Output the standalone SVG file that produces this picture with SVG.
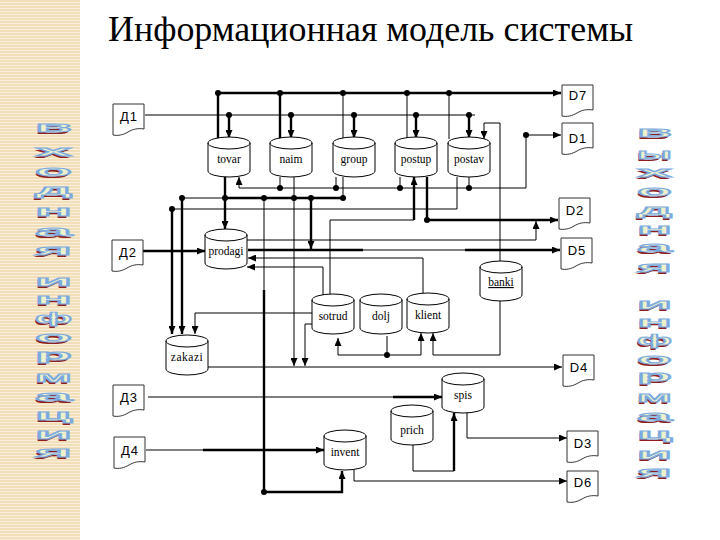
<svg xmlns="http://www.w3.org/2000/svg" xmlns:xlink="http://www.w3.org/1999/xlink" width="720" height="540" viewBox="0 0 720 540">
<defs>
<style>
.thin{fill:none;stroke:#000;stroke-width:1}
.thick{fill:none;stroke:#000;stroke-width:2.4}
.lbl{font-family:'Liberation Serif','DejaVu Serif',serif;font-size:11.5px;fill:#000;text-anchor:middle}
.dl{font-family:'Liberation Sans','DejaVu Sans',sans-serif;font-size:13px;fill:#000;text-anchor:middle;letter-spacing:1px}
.title{font-family:'Liberation Serif','DejaVu Serif',serif;font-size:36px;fill:#000}
.wa{font-family:'Liberation Sans','DejaVu Sans',sans-serif;font-weight:bold;font-size:14px;fill:#eef2cc;stroke:#7aaae0;stroke-width:0.8}
.wash{font-family:'Liberation Sans','DejaVu Sans',sans-serif;font-weight:bold;font-size:14px;fill:#8e1d1d}
</style>
<pattern id="stripes" width="6" height="3" patternUnits="userSpaceOnUse">
<rect width="6" height="3" fill="#f2dfba"/>
<rect y="2" width="6" height="1" fill="#f9efdd"/>
</pattern>
<marker id="ah" viewBox="0 0 10 10" refX="10" refY="5" markerWidth="8" markerHeight="7" markerUnits="userSpaceOnUse" orient="auto" preserveAspectRatio="none">
<path d="M0,0 L10,5 L0,10 Z" fill="#000"/>
</marker>
<g id="cyl">
<path d="M0,6 A21,6 0 0 1 42,6 V34 A21,6 0 0 1 0,34 Z" fill="#fff" stroke="#000" stroke-width="1"/>
<path d="M0,6 A21,6 0 0 0 42,6" fill="none" stroke="#000" stroke-width="1"/>
</g>
<path id="doc" d="M0,0 H31 V25 C25,24 20,25 15,28 C10,31 5,32 0,31 Z" fill="#fff" stroke="#333" stroke-width="1"/>
</defs>

<rect width="720" height="540" fill="#fff"/>
<rect x="0" y="0" width="80" height="540" fill="url(#stripes)"/>

<text class="title" x="108" y="41" textLength="525" lengthAdjust="spacingAndGlyphs">Информационная модель системы</text>

<!-- side WordArt: входная информация -->
<g id="side-left">
<g transform="translate(-1.5,1.5)">
<text class="wash" x="35" y="132" textLength="37" lengthAdjust="spacingAndGlyphs">в</text>
<text class="wash" x="35" y="156" textLength="37" lengthAdjust="spacingAndGlyphs">х</text>
<text class="wash" x="35" y="176" textLength="37" lengthAdjust="spacingAndGlyphs">о</text>
<text class="wash" x="35" y="195" textLength="37" lengthAdjust="spacingAndGlyphs">д</text>
<text class="wash" x="35" y="216" textLength="37" lengthAdjust="spacingAndGlyphs">н</text>
<text class="wash" x="35" y="236" textLength="37" lengthAdjust="spacingAndGlyphs">а</text>
<text class="wash" x="35" y="255" textLength="37" lengthAdjust="spacingAndGlyphs">я</text>
<text class="wash" x="35" y="286" textLength="37" lengthAdjust="spacingAndGlyphs">и</text>
<text class="wash" x="35" y="304" textLength="37" lengthAdjust="spacingAndGlyphs">н</text>
<text class="wash" x="35" y="323" textLength="37" lengthAdjust="spacingAndGlyphs">ф</text>
<text class="wash" x="35" y="342" textLength="37" lengthAdjust="spacingAndGlyphs">о</text>
<text class="wash" x="35" y="360" textLength="37" lengthAdjust="spacingAndGlyphs">р</text>
<text class="wash" x="35" y="382" textLength="37" lengthAdjust="spacingAndGlyphs">м</text>
<text class="wash" x="35" y="401" textLength="37" lengthAdjust="spacingAndGlyphs">а</text>
<text class="wash" x="35" y="420" textLength="37" lengthAdjust="spacingAndGlyphs">ц</text>
<text class="wash" x="35" y="439" textLength="37" lengthAdjust="spacingAndGlyphs">и</text>
<text class="wash" x="35" y="457" textLength="37" lengthAdjust="spacingAndGlyphs">я</text>
</g>
<text class="wa" x="35" y="132" textLength="37" lengthAdjust="spacingAndGlyphs">в</text>
<text class="wa" x="35" y="156" textLength="37" lengthAdjust="spacingAndGlyphs">х</text>
<text class="wa" x="35" y="176" textLength="37" lengthAdjust="spacingAndGlyphs">о</text>
<text class="wa" x="35" y="195" textLength="37" lengthAdjust="spacingAndGlyphs">д</text>
<text class="wa" x="35" y="216" textLength="37" lengthAdjust="spacingAndGlyphs">н</text>
<text class="wa" x="35" y="236" textLength="37" lengthAdjust="spacingAndGlyphs">а</text>
<text class="wa" x="35" y="255" textLength="37" lengthAdjust="spacingAndGlyphs">я</text>
<text class="wa" x="35" y="286" textLength="37" lengthAdjust="spacingAndGlyphs">и</text>
<text class="wa" x="35" y="304" textLength="37" lengthAdjust="spacingAndGlyphs">н</text>
<text class="wa" x="35" y="323" textLength="37" lengthAdjust="spacingAndGlyphs">ф</text>
<text class="wa" x="35" y="342" textLength="37" lengthAdjust="spacingAndGlyphs">о</text>
<text class="wa" x="35" y="360" textLength="37" lengthAdjust="spacingAndGlyphs">р</text>
<text class="wa" x="35" y="382" textLength="37" lengthAdjust="spacingAndGlyphs">м</text>
<text class="wa" x="35" y="401" textLength="37" lengthAdjust="spacingAndGlyphs">а</text>
<text class="wa" x="35" y="420" textLength="37" lengthAdjust="spacingAndGlyphs">ц</text>
<text class="wa" x="35" y="439" textLength="37" lengthAdjust="spacingAndGlyphs">и</text>
<text class="wa" x="35" y="457" textLength="37" lengthAdjust="spacingAndGlyphs">я</text>
</g>

<!-- side WordArt: выходная информация -->
<g id="side-right">
<g transform="translate(-1.5,1.5)">
<text class="wash" x="637" y="137" textLength="35" lengthAdjust="spacingAndGlyphs">в</text>
<text class="wash" x="637" y="159" textLength="35" lengthAdjust="spacingAndGlyphs">ы</text>
<text class="wash" x="637" y="177" textLength="35" lengthAdjust="spacingAndGlyphs">х</text>
<text class="wash" x="637" y="196" textLength="35" lengthAdjust="spacingAndGlyphs">о</text>
<text class="wash" x="637" y="215" textLength="35" lengthAdjust="spacingAndGlyphs">д</text>
<text class="wash" x="637" y="234" textLength="35" lengthAdjust="spacingAndGlyphs">н</text>
<text class="wash" x="637" y="252" textLength="35" lengthAdjust="spacingAndGlyphs">а</text>
<text class="wash" x="637" y="272" textLength="35" lengthAdjust="spacingAndGlyphs">я</text>
<text class="wash" x="637" y="309" textLength="35" lengthAdjust="spacingAndGlyphs">и</text>
<text class="wash" x="637" y="327" textLength="35" lengthAdjust="spacingAndGlyphs">н</text>
<text class="wash" x="637" y="345" textLength="35" lengthAdjust="spacingAndGlyphs">ф</text>
<text class="wash" x="637" y="364" textLength="35" lengthAdjust="spacingAndGlyphs">о</text>
<text class="wash" x="637" y="381" textLength="35" lengthAdjust="spacingAndGlyphs">р</text>
<text class="wash" x="637" y="402" textLength="35" lengthAdjust="spacingAndGlyphs">м</text>
<text class="wash" x="637" y="421" textLength="35" lengthAdjust="spacingAndGlyphs">а</text>
<text class="wash" x="637" y="439" textLength="35" lengthAdjust="spacingAndGlyphs">ц</text>
<text class="wash" x="637" y="459" textLength="35" lengthAdjust="spacingAndGlyphs">и</text>
<text class="wash" x="637" y="477" textLength="35" lengthAdjust="spacingAndGlyphs">я</text>
</g>
<text class="wa" x="637" y="137" textLength="35" lengthAdjust="spacingAndGlyphs">в</text>
<text class="wa" x="637" y="159" textLength="35" lengthAdjust="spacingAndGlyphs">ы</text>
<text class="wa" x="637" y="177" textLength="35" lengthAdjust="spacingAndGlyphs">х</text>
<text class="wa" x="637" y="196" textLength="35" lengthAdjust="spacingAndGlyphs">о</text>
<text class="wa" x="637" y="215" textLength="35" lengthAdjust="spacingAndGlyphs">д</text>
<text class="wa" x="637" y="234" textLength="35" lengthAdjust="spacingAndGlyphs">н</text>
<text class="wa" x="637" y="252" textLength="35" lengthAdjust="spacingAndGlyphs">а</text>
<text class="wa" x="637" y="272" textLength="35" lengthAdjust="spacingAndGlyphs">я</text>
<text class="wa" x="637" y="309" textLength="35" lengthAdjust="spacingAndGlyphs">и</text>
<text class="wa" x="637" y="327" textLength="35" lengthAdjust="spacingAndGlyphs">н</text>
<text class="wa" x="637" y="345" textLength="35" lengthAdjust="spacingAndGlyphs">ф</text>
<text class="wa" x="637" y="364" textLength="35" lengthAdjust="spacingAndGlyphs">о</text>
<text class="wa" x="637" y="381" textLength="35" lengthAdjust="spacingAndGlyphs">р</text>
<text class="wa" x="637" y="402" textLength="35" lengthAdjust="spacingAndGlyphs">м</text>
<text class="wa" x="637" y="421" textLength="35" lengthAdjust="spacingAndGlyphs">а</text>
<text class="wa" x="637" y="439" textLength="35" lengthAdjust="spacingAndGlyphs">ц</text>
<text class="wa" x="637" y="459" textLength="35" lengthAdjust="spacingAndGlyphs">и</text>
<text class="wa" x="637" y="477" textLength="35" lengthAdjust="spacingAndGlyphs">я</text>
</g>

<!-- connectors -->
<g id="connectors">
<path class="thick" d="M218,93 H561" marker-end="url(#ah)"/>
<path class="thick" d="M218,93 V139 M280,93 V139"/>
<path class="thin" d="M343,93 V139 M407,93 V139 M449,93 V139"/>
<path class="thin" d="M145,115 H475"/>
<path class="thick" d="M229,115 V138" marker-end="url(#ah)"/>
<path class="thick" d="M291,115 V138" marker-end="url(#ah)"/>
<path class="thick" d="M354,115 V138" marker-end="url(#ah)"/>
<path class="thick" d="M416,115 V138" marker-end="url(#ah)"/>
<path class="thick" d="M469,115 V138" marker-end="url(#ah)"/>
<path class="thin" d="M526,188 H239 V177" marker-end="url(#ah)"/>
<path class="thin" d="M526,188 V135 H561" marker-end="url(#ah)"/>
<path class="thin" d="M280,177 V188 M336,177 V188 M400,177 V188 M469,177 V188"/>
<path class="thin" d="M182,198 H225"/>
<path class="thick" d="M225,198 H343"/>
<path class="thin" d="M343,177 V198"/>
<path class="thick" d="M225,177 V229" marker-end="url(#ah)"/>
<path class="thin" d="M294,177 V366" marker-end="url(#ah)"/>
<path class="thick" d="M182,198 V334" marker-end="url(#ah)"/>
<path class="thin" d="M264,198 V290"/>
<path class="thick" d="M264,290 V492 H342 V471" marker-end="url(#ah)"/>
<path class="thick" d="M311,198 V249" marker-end="url(#ah)"/>
<path class="thin" d="M457,177 V209 H172"/>
<path class="thick" d="M172,209 V334" marker-end="url(#ah)"/>
<path class="thick" d="M427,177 V220 H558" marker-end="url(#ah)"/>
<path class="thin" d="M330,294 V220 H414"/>
<path class="thick" d="M414,220 V177" marker-end="url(#ah)"/>
<path class="thin" d="M247,240 H536 V221" marker-end="url(#ah)"/>
<path class="thick" d="M248,250 H363"/>
<path class="thin" d="M363,250 H465"/>
<path class="thick" d="M465,250 H560" marker-end="url(#ah)"/>
<path class="thin" d="M423,293 V258 H248" marker-end="url(#ah)"/>
<path class="thin" d="M323,295 V267 H247" marker-end="url(#ah)"/>
<path class="thin" d="M312,313 H195 V334" marker-end="url(#ah)"/>
<path class="thin" d="M312,324 H305 V366" marker-end="url(#ah)"/>
<path class="thin" d="M387,336 V355 H338 V338" marker-end="url(#ah)"/>
<path class="thin" d="M387,355 H421 V333" marker-end="url(#ah)"/>
<path class="thin" d="M500,300 V355 H433 V333" marker-end="url(#ah)"/>
<path class="thin" d="M500,261 V123 H484 V139" marker-end="url(#ah)"/>
<path class="thin" d="M208,367 H562" marker-end="url(#ah)"/>
<path class="thick" d="M143,251 H205" marker-end="url(#ah)"/>
<path class="thin" d="M148,397 H393"/>
<path class="thick" d="M393,397 H442" marker-end="url(#ah)"/>
<path class="thin" d="M146,450 H203"/>
<path class="thick" d="M203,450 H324" marker-end="url(#ah)"/>
<path class="thin" d="M354,470 V481 H567" marker-end="url(#ah)"/>
<path class="thin" d="M413,445 V471 H454"/>
<path class="thick" d="M454,471 V413" marker-end="url(#ah)"/>
<path class="thin" d="M467,413 V438 H567" marker-end="url(#ah)"/>
<g fill="#000">
<circle cx="218" cy="93" r="3"/><circle cx="280" cy="93" r="3"/><circle cx="343" cy="93" r="3"/><circle cx="407" cy="93" r="3"/><circle cx="449" cy="93" r="3"/>
<circle cx="229" cy="115" r="3"/><circle cx="291" cy="115" r="3"/><circle cx="354" cy="115" r="3"/><circle cx="416" cy="115" r="3"/><circle cx="469" cy="115" r="3"/>
<circle cx="526" cy="135" r="3"/>
<circle cx="280" cy="188" r="3"/><circle cx="336" cy="188" r="3"/><circle cx="400" cy="188" r="3"/><circle cx="469" cy="188" r="3"/>
<circle cx="182" cy="198" r="3"/><circle cx="225" cy="198" r="3"/><circle cx="264" cy="198" r="3"/><circle cx="294" cy="198" r="3"/><circle cx="311" cy="198" r="3"/><circle cx="343" cy="198" r="3"/>
<circle cx="172" cy="209" r="3"/><circle cx="427" cy="220" r="3"/>
<circle cx="387" cy="355" r="3"/><circle cx="264" cy="492" r="3"/>
</g>
</g>

<!-- data stores -->
<g id="tovar"><use xlink:href="#cyl" x="208" y="137"/><text class="lbl" x="229" y="163">tovar</text></g>
<g id="naim"><use xlink:href="#cyl" x="270" y="137"/><text class="lbl" x="291" y="163">naim</text></g>
<g id="group"><use xlink:href="#cyl" x="333" y="137"/><text class="lbl" x="354" y="163">group</text></g>
<g id="postup"><use xlink:href="#cyl" x="395" y="137"/><text class="lbl" x="416" y="163">postup</text></g>
<g id="postav"><use xlink:href="#cyl" x="448" y="137"/><text class="lbl" x="469" y="163">postav</text></g>
<g id="prodagi"><use xlink:href="#cyl" x="205" y="229"/><text class="lbl" x="226" y="255">prodagi</text></g>
<g id="banki"><use xlink:href="#cyl" x="480" y="261"/><text class="lbl" x="501" y="286" text-decoration="underline">banki</text></g>
<g id="sotrud"><use xlink:href="#cyl" x="312" y="294"/><text class="lbl" x="333" y="320">sotrud</text></g>
<g id="dolj"><use xlink:href="#cyl" x="360" y="294"/><text class="lbl" x="381" y="320">dolj</text></g>
<g id="klient"><use xlink:href="#cyl" x="407" y="293"/><text class="lbl" x="428" y="319">klient</text></g>
<g id="zakazi"><use xlink:href="#cyl" x="166" y="335"/><text class="lbl" x="187" y="361" letter-spacing="0.5">zakazi</text></g>
<g id="spis"><use xlink:href="#cyl" x="442" y="373"/><text class="lbl" x="463" y="399">spis</text></g>
<g id="prich"><use xlink:href="#cyl" x="391" y="405"/><text class="lbl" x="412" y="434">prich</text></g>
<g id="invent"><use xlink:href="#cyl" x="324" y="430"/><text class="lbl" x="345" y="456">invent</text></g>

<!-- documents -->
<g id="doc-in1"><use xlink:href="#doc" x="113" y="104"/><text class="dl" x="129" y="121">Д1</text></g>
<g id="doc-in2"><use xlink:href="#doc" x="112" y="240"/><text class="dl" x="128" y="257">Д2</text></g>
<g id="doc-in3"><use xlink:href="#doc" x="113" y="385"/><text class="dl" x="129" y="402">Д3</text></g>
<g id="doc-in4"><use xlink:href="#doc" x="114" y="437"/><text class="dl" x="130" y="455">Д4</text></g>
<g id="doc-D7"><use xlink:href="#doc" x="562" y="85"/><text class="dl" x="578" y="100">D7</text></g>
<g id="doc-D1"><use xlink:href="#doc" x="562" y="123"/><text class="dl" x="578" y="143">D1</text></g>
<g id="doc-D2"><use xlink:href="#doc" x="559" y="198"/><text class="dl" x="575" y="215">D2</text></g>
<g id="doc-D5"><use xlink:href="#doc" x="561" y="238"/><text class="dl" x="577" y="255">D5</text></g>
<g id="doc-D4"><use xlink:href="#doc" x="563" y="355"/><text class="dl" x="579" y="372">D4</text></g>
<g id="doc-D3"><use xlink:href="#doc" x="567" y="431"/><text class="dl" x="583" y="448">D3</text></g>
<g id="doc-D6"><use xlink:href="#doc" x="567" y="471"/><text class="dl" x="583" y="487">D6</text></g>
</svg>
